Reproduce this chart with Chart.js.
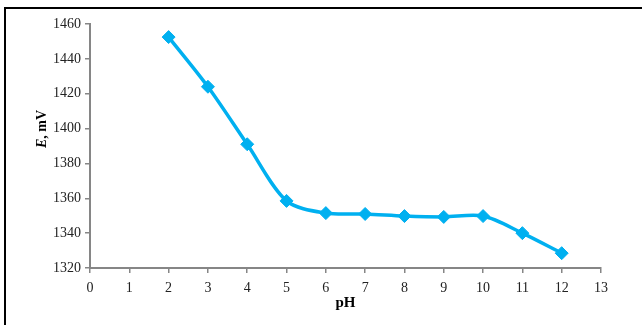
<!DOCTYPE html>
<html>
<head>
<meta charset="utf-8">
<script src="https://cdn.jsdelivr.net/npm/chart.js@4"></script>
<style>
  html, body { margin: 0; padding: 0; background: #fff; }
  #wrap { position: relative; width: 642px; height: 325px; overflow: hidden; }
  #frameL { position: absolute; left: 4px; top: 7px; width: 2px; height: 318px; background: #000; }
  #frameT { position: absolute; left: 4px; top: 7px; width: 638px; height: 2px; background: #000; }
  canvas { position: absolute; left: 0; top: 0; }
</style>
</head>
<body>
<div id="wrap">
  <canvas id="phChart" width="642" height="325"></canvas>
  <div id="frameL"></div>
  <div id="frameT"></div>
</div>
<script>
// data
const phValues = [2, 3, 4, 5, 6, 7, 8, 9, 10, 11, 12];
const potential = [1452.5, 1424, 1391, 1358.5, 1351.5, 1351, 1349.8, 1349.3, 1349.8, 1340, 1328.5];
const xTicks = [0, 1, 2, 3, 4, 5, 6, 7, 8, 9, 10, 11, 12, 13];
const yTicks = [1320, 1340, 1360, 1380, 1400, 1420, 1440, 1460];

const axisGray = '#868686';
const tickFont = { family: 'Liberation Serif', size: 14 };

// y title: italic "E" + ", mV", drawn by hand so it sits where the original does
const yTitle = {
    id: 'yTitle',
    afterDraw(chart) {
        const c = chart.ctx;
        c.save();
        c.translate(42, 129);
        c.rotate(-Math.PI / 2);
        c.fillStyle = '#000';
        c.textBaseline = 'middle';
        c.font = 'italic bold 14px "Liberation Serif"';
        const w1 = c.measureText('E').width;
        c.font = 'bold 14px "Liberation Serif"';
        const w2 = c.measureText(', mV').width;
        const x0 = -(w1 + w2) / 2;
        c.font = 'italic bold 14px "Liberation Serif"';
        c.fillText('E', x0, 0);
        c.font = 'bold 14px "Liberation Serif"';
        c.fillText(', mV', x0 + w1, 0);
        c.restore();
    }
};

const ctx = document.getElementById('phChart').getContext('2d');
let phChart = new Chart(ctx, {
    type: 'line',
    data: {
        datasets: [{
            data: phValues.map((x, i) => ({ x: x, y: potential[i] })),
            borderColor: '#00b0f0',
            backgroundColor: '#00b0f0',
            borderWidth: 3.5,
            tension: 0.3,
            pointStyle: 'rectRot',
            pointRadius: 6.5,
            pointBorderWidth: 1,
            pointBorderColor: '#00b0f0',
            fill: false
        }]
    },
    options: {
        responsive: false,
        animation: false,
        layout: { padding: { left: 0, top: 24, right: 41, bottom: 0 } },
        plugins: { legend: { display: false }, tooltip: { enabled: false } },
        scales: {
            x: {
                type: 'linear',
                min: 0, max: 13,
                afterBuildTicks: s => { s.ticks = xTicks.map(v => ({ value: v })); },
                afterFit: s => { s.height = 57; },
                border: { color: axisGray, width: 2 },
                grid: { drawOnChartArea: false, color: axisGray, tickLength: 5, lineWidth: 1.5 },
                ticks: { color: '#222', font: tickFont, padding: 7, maxRotation: 0, callback: v => String(v) },
                title: {
                    display: true, text: 'pH', color: '#000',
                    font: { family: 'Liberation Serif', size: 15, weight: 'bold' },
                    padding: { top: 0, bottom: 13 }
                }
            },
            y: {
                min: 1320, max: 1460,
                afterBuildTicks: s => { s.ticks = yTicks.map(v => ({ value: v })); },
                afterFit: s => { s.width = 90; },
                border: { color: axisGray, width: 2 },
                grid: { drawOnChartArea: false, color: axisGray, tickLength: 5, lineWidth: 1.5 },
                ticks: { color: '#222', font: tickFont, padding: 4, callback: v => String(v) }
            }
        }
    },
    plugins: [yTitle]
});
</script>
</body>
</html>
